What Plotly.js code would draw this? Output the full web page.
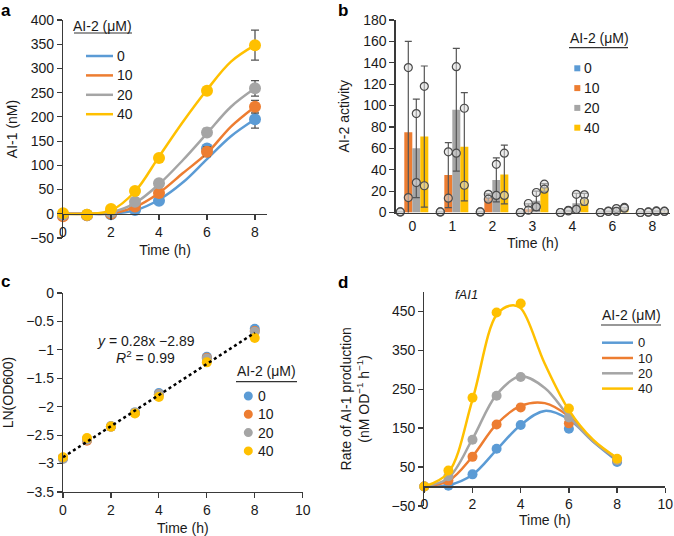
<!DOCTYPE html>
<html><head><meta charset="utf-8">
<script src="https://cdn.plot.ly/plotly-3.0.1.min.js"></script>
<style>html,body{margin:0;padding:0;background:#fff}#chart{width:674px;height:536px}</style>
</head><body><div id="chart"></div>
<script>
// ---------- data ----------
const doses = ['0', '10', '20', '40'];
const colors = ['#5B9BD5', '#ED7D31', '#A5A5A5', '#FFC000'];

// panel a : AI-1 (nM) vs time
const timeA = [0, 1, 2, 3, 4, 6, 8];
const ai1_0  = [-3, -3, -1, 8, 27, 135, 195];
const ai1_10 = [-5, -3, 0, 15, 43, 128, 221];
const ai1_20 = [-2, -2, 3, 25, 63, 168, 259];
const ai1_40 = [1, -2, 10, 47, 115, 254, 348];
const ai1Err_0  = [2, 2, 2, 3, 4, 6, 18];
const ai1Err_10 = [2, 2, 2, 3, 4, 10, 13];
const ai1Err_20 = [2, 2, 2, 3, 4, 8, 16];
const ai1Err_40 = [2, 2, 2, 3, 4, 5, 31];
const fitTimeA = [0, 1, 2, 3, 4, 5, 6, 7, 8];
const ai1Fit_0  = [0, 0, 0, 7, 29, 65, 113, 160, 195];
const ai1Fit_10 = [0, 0, 1, 14, 43, 84, 125, 180, 221];
const ai1Fit_20 = [0, 0, 3, 22, 61, 111, 166, 221, 259];
const ai1Fit_40 = [0, 0, 7, 46, 118, 190, 256, 314, 348];

// panel b : AI-2 activity (bars = mean, points = replicates)
const catB = ['0', '1', '2', '3', '4', '6', '8'];
const act_0  = [0.6, 0.6, 0.6, 0.4, 0.4, 0.4, 0.3];
const act_10 = [75, 35, 14, 3, 1.5, 1, 0.5];
const act_20 = [60, 96, 30.5, 11, 8.7, 3, 1];
const act_40 = [71, 61.4, 35.5, 23.4, 12.5, 3.5, 1];
const actErr_0  = [0, 0, 0, 0, 0, 0, 0];
const actErr_10 = [85, 30.4, 3.5, 5, 0.5, 0.3, 0.2];
const actErr_20 = [46, 57.4, 20.5, 9, 9.3, 1.5, 0.5];
const actErr_40 = [66, 50.6, 27.5, 3.6, 5.3, 1, 1.4];
const rep1_0  = [0.5, 0.5, 0.5, 0, 0, 0, 0];
const rep2_0  = [0.5, 0.5, 0.5, 0, 0, 0, 0];
const rep1_10 = [135.5, 56.7, 17, 8.4, 2, 1.3, 0.5];
const rep2_10 = [14, 13.4, 12.5, 2.2, 1.5, 1, 0.3];
const rep1_20 = [92.5, 136.4, 45, 18.7, 17, 3.7, 1.5];
const rep2_20 = [28, 55.5, 16, 5.3, 3, 1, 1];
const rep1_40 = [118, 97.5, 55.5, 26.5, 16.5, 4.7, 1.2];
const rep2_40 = [25, 25.5, 16, 21.8, 10.3, 4, 1];

// panel c : LN(OD600)
const timeC = [0, 1, 2, 3, 4, 6, 8];
const lnOD_0  = [-2.9, -2.58, -2.35, -2.1, -1.76, -1.12, -0.63];
const lnOD_10 = [-2.9, -2.6, -2.35, -2.11, -1.78, -1.14, -0.67];
const lnOD_20 = [-2.92, -2.58, -2.34, -2.1, -1.78, -1.15, -0.68];
const lnOD_40 = [-2.89, -2.55, -2.35, -2.12, -1.83, -1.22, -0.79];
const trendX = [0, 8];
const trendY = [-2.89, -0.70];

// panel d : rate of AI-1 production
const timeD = [0, 1, 2, 3, 4, 6, 8];
const rate_0  = [0, 2, 31, 97, 158, 148, 63];
const rate_10 = [0, 15, 76, 159, 203, 162, 68];
const rate_20 = [0, 26, 120, 233, 281, 177, 68];
const rate_40 = [0, 41, 228, 447, 470, 200, 71];
const fitTimeD = [0, 1, 2, 3, 4, 5, 6, 7, 8];
const rateFit_0  = [0, 3, 30, 94, 158, 194, 172, 115, 65];
const rateFit_10 = [0, 14, 77, 160, 207, 214, 180, 117, 70];
const rateFit_20 = [0, 22, 122, 236, 283, 253, 180, 116, 72];
const fitTimeD40 = [0, 1, 2, 3, 3.6, 4, 5, 6, 7, 8];
const rateFit_40 = [0, 36, 223, 441, 465, 458, 315, 196, 120, 73];

// ---------- layout helpers ----------
const W = 674, H = 536;
const FONT = 'Liberation Sans, Arial, Helvetica, sans-serif';
const AXC = '#3a3a3a', TXT = '#1a1a1a';
const px = v => v / W;
const py = v => 1 - v / H;

const A = {l: 63, r: 267, t: 20, b: 238, xr: [0, 8.5], yr: [-50, 400]};
const B = {l: 395.5, r: 670, t: 20, b: 212.5, xr: [-0.42, 6.44], yr: [0, 180]};
const C = {l: 63, r: 302.7, t: 293, b: 492, xr: [0, 10], yr: [-3.5, 0]};
const D = {l: 424.3, r: 665.3, t: 291.8, b: 505.9, xr: [0, 10], yr: [-50, 500]};
const zeroPos = P => py(P.b - (0 - P.yr[0]) / (P.yr[1] - P.yr[0]) * (P.b - P.t));

function ax(P, isX, extra) {
  const base = {
    showgrid: false, zeroline: false, showline: true, linecolor: AXC, linewidth: 1.2,
    ticks: 'outside', ticklen: 5, tickcolor: AXC, tickwidth: 1.2,
    tickfont: {family: FONT, size: 14, color: TXT},
    domain: isX ? [px(P.l), px(P.r)] : [py(P.b), py(P.t)],
    range: isX ? P.xr : P.yr, fixedrange: true
  };
  return Object.assign(base, extra);
}
const ttl = (text, standoff) => ({text, standoff, font: {family: FONT, size: 14, color: TXT}});

// ---------- traces ----------
const traces = [];
const seriesA = [ai1_0, ai1_10, ai1_20, ai1_40];
const errA = [ai1Err_0, ai1Err_10, ai1Err_20, ai1Err_40];
const fitA = [ai1Fit_0, ai1Fit_10, ai1Fit_20, ai1Fit_40];
doses.forEach((d, k) => {
  traces.push({x: fitTimeA, y: fitA[k], xaxis: 'x', yaxis: 'y', mode: 'lines', showlegend: false,
    line: {color: colors[k], width: 2.5, shape: 'spline', smoothing: 1}, hoverinfo: 'skip'});
  traces.push({x: timeA, y: seriesA[k], xaxis: 'x', yaxis: 'y', mode: 'markers', showlegend: false, cliponaxis: false,
    name: d, marker: {color: colors[k], size: 12},
    error_y: {type: 'data', array: errA[k], color: '#555', thickness: 1.3, width: 4}});
});

const seriesB = [act_0, act_10, act_20, act_40];
const errB = [actErr_0, actErr_10, actErr_20, actErr_40];
const repB = [[rep1_0, rep2_0], [rep1_10, rep2_10], [rep1_20, rep2_20], [rep1_40, rep2_40]];
const idxB = catB.map((c, i) => i);
const BARGAP = 0.2;
doses.forEach((d, k) => {
  traces.push({type: 'bar', x: idxB, y: seriesB[k], xaxis: 'x2', yaxis: 'y2', name: d, showlegend: false,
    marker: {color: colors[k]},
    error_y: {type: 'data', array: errB[k], color: '#555', thickness: 1.2, width: 3.5}});
});
doses.forEach((d, k) => {
  const off = (k - 1.5) * (1 - BARGAP) / doses.length;
  repB[k].forEach(rep => {
    traces.push({x: idxB.map(i => i + off), y: rep, xaxis: 'x2', yaxis: 'y2', mode: 'markers', showlegend: false,
      marker: {size: 8, color: 'rgba(220,220,220,0.55)', line: {color: '#4a4a4a', width: 1.2}}, cliponaxis: false, hoverinfo: 'y'});
  });
});

const seriesC = [lnOD_0, lnOD_10, lnOD_20, lnOD_40];
doses.forEach((d, k) => {
  traces.push({x: timeC, y: seriesC[k], xaxis: 'x3', yaxis: 'y3', mode: 'markers', name: d, showlegend: false,
    cliponaxis: false, marker: {color: colors[k], size: 10}});
});
traces.push({x: trendX, y: trendY, xaxis: 'x3', yaxis: 'y3', mode: 'lines', showlegend: false, cliponaxis: false,
  line: {color: '#000', width: 2.5, dash: 'dot'}});

const seriesD = [rate_0, rate_10, rate_20, rate_40];
const fitD = [rateFit_0, rateFit_10, rateFit_20, rateFit_40];
const fitTD = [fitTimeD, fitTimeD, fitTimeD, fitTimeD40];
doses.forEach((d, k) => {
  traces.push({x: fitTD[k], y: fitD[k], xaxis: 'x4', yaxis: 'y4', mode: 'lines', showlegend: false,
    line: {color: colors[k], width: 2.5, shape: 'spline', smoothing: 1}, hoverinfo: 'skip'});
  traces.push({x: timeD, y: seriesD[k], xaxis: 'x4', yaxis: 'y4', mode: 'markers', name: d, showlegend: false,
    cliponaxis: false, marker: {color: colors[k], size: 10}});
});

// ---------- manual legends (style positions only) ----------
const shapes = [], annotations = [];
function legend(cfg) {
  annotations.push({xref: 'paper', yref: 'paper', x: px(cfg.titleX), y: py(cfg.titleY), xanchor: 'left', yanchor: 'middle',
    text: 'AI-2 (μM)', showarrow: false, font: {family: FONT, size: 14, color: TXT}});
  shapes.push({type: 'line', xref: 'paper', yref: 'paper', x0: px(cfg.ulX0), x1: px(cfg.ulX1), y0: py(cfg.ulY), y1: py(cfg.ulY),
    line: {color: '#333', width: 1.2}});
  doses.forEach((d, k) => {
    const yy = cfg.row0 + k * cfg.step;
    if (cfg.kind === 'line') {
      shapes.push({type: 'line', xref: 'paper', yref: 'paper', x0: px(cfg.sx0), x1: px(cfg.sx1), y0: py(yy), y1: py(yy),
        line: {color: colors[k], width: 2.5}});
    } else if (cfg.kind === 'circle') {
      shapes.push({type: 'circle', xref: 'paper', yref: 'paper', x0: px(cfg.sx - 4.5), x1: px(cfg.sx + 4.5),
        y0: py(yy + 4.5), y1: py(yy - 4.5), fillcolor: colors[k], line: {width: 0}});
    } else {
      shapes.push({type: 'rect', xref: 'paper', yref: 'paper', x0: px(cfg.sx - 3), x1: px(cfg.sx + 3),
        y0: py(yy + 3), y1: py(yy - 3), fillcolor: colors[k], line: {width: 0}});
    }
    annotations.push({xref: 'paper', yref: 'paper', x: px(cfg.tx), y: py(yy), xanchor: 'left', yanchor: 'middle',
      text: d, showarrow: false, font: {family: FONT, size: cfg.fs, color: TXT}});
  });
}
legend({kind: 'line', titleX: 71, titleY: 26.5, ulX0: 74, ulX1: 132, ulY: 33, row0: 56, step: 19.4, sx0: 86, sx1: 113, tx: 115, fs: 14});
legend({kind: 'rect', titleX: 568, titleY: 38, ulX0: 569, ulX1: 628, ulY: 47.7, row0: 68.3, step: 19.8, sx: 577.3, tx: 581.5, fs: 14});
legend({kind: 'circle', titleX: 235, titleY: 370.5, ulX0: 236, ulX1: 297, ulY: 381.7, row0: 396, step: 18.3, sx: 248.3, tx: 256, fs: 14});
legend({kind: 'line', titleX: 600, titleY: 315, ulX0: 601, ulX1: 661, ulY: 325, row0: 342.7, step: 15.3, sx0: 602, sx1: 633, tx: 636, fs: 13});

// panel letters
[['a', 0, 0], ['b', 337, 0], ['c', 0, 271], ['d', 337, 272]].forEach(([t, x, y]) => {
  annotations.push({xref: 'paper', yref: 'paper', x: px(x), y: py(y), xanchor: 'left', yanchor: 'top', borderpad: 0,
    text: '<b>' + t + '</b>', showarrow: false, font: {family: FONT, size: 17, color: '#000'}});
});
// equation text (panel c) and gene label (panel d)
annotations.push({xref: 'x3', yref: 'y3', x: 3.46, y: -0.84, text: '<i>y</i> = 0.28x −2.89', showarrow: false,
  font: {family: FONT, size: 14, color: TXT}});
annotations.push({xref: 'x3', yref: 'y3', x: 3.46, y: -1.13, text: '<i>R</i><sup>2</sup> = 0.99', showarrow: false,
  font: {family: FONT, size: 14, color: TXT}});
annotations.push({xref: 'x4', yref: 'y4', x: 1.77, y: 492, text: '<i>fAI1</i>', showarrow: false,
  font: {family: FONT, size: 13, color: TXT}});

const layout = {
  width: W, height: H, margin: {l: 0, r: 0, t: 0, b: 0}, paper_bgcolor: '#fff', plot_bgcolor: 'rgba(0,0,0,0)',
  showlegend: false, barmode: 'group', bargap: BARGAP, bargroupgap: 0,
  font: {family: FONT, size: 14, color: TXT},
  xaxis: ax(A, true, {anchor: 'free', position: zeroPos(A), tickvals: [0, 2, 4, 6, 8], title: ttl('Time (h)', 6)}),
  yaxis: ax(A, false, {anchor: 'x', dtick: 50, tick0: -50, title: ttl('AI-1 (nM)', 9)}),
  xaxis2: ax(B, true, {anchor: 'y2', tickvals: idxB, ticktext: catB, ticks: '', title: ttl('Time (h)', 5)}),
  yaxis2: ax(B, false, {anchor: 'x2', dtick: 20, title: ttl('AI-2 activity', 10)}),
  xaxis3: ax(C, true, {anchor: 'y3', dtick: 2, title: ttl('Time (h)', 9)}),
  yaxis3: ax(C, false, {anchor: 'x3', dtick: 0.5, title: ttl('LN(OD600)', 10)}),
  xaxis4: ax(D, true, {anchor: 'free', position: zeroPos(D), dtick: 2, title: ttl('Time (h)', 3)}),
  yaxis4: ax(D, false, {anchor: 'x4', tick0: -50, dtick: 100,
    title: ttl('Rate of AI-1 production<br>(nM OD<sup>−1</sup> h<sup>−1</sup>)', 18)}),
  shapes, annotations
};

Plotly.newPlot('chart', traces, layout, {staticPlot: true, displayModeBar: false});
</script></body></html>
